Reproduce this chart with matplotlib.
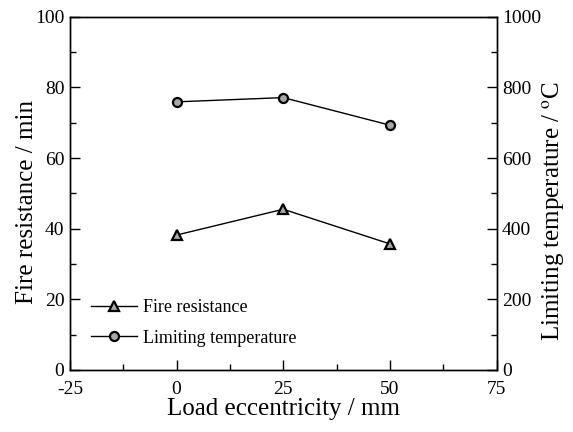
import matplotlib.pyplot as plt
from matplotlib.ticker import MultipleLocator

# data
eccentricity = [0, 25, 50]
fire_resistance = [38.2, 45.5, 35.7]       # min
limiting_temp = [759, 771, 693]            # degC

plt.rcParams['font.family'] = ['Liberation Serif']
plt.rcParams['mathtext.fontset'] = 'stix'
plt.rcParams['axes.unicode_minus'] = False

fig = plt.figure(figsize=(5.73, 4.32), dpi=100)
ax = fig.add_axes([70 / 573, 62 / 432, (496.5 - 70) / 573, (370 - 16.7) / 432])
ax2 = ax.twinx()

mk = dict(markerfacecolor='#a8a8a8', markeredgecolor='black', markeredgewidth=1.6,
          markersize=6.5, color='black', linewidth=1.0)

l1, = ax.plot(eccentricity, fire_resistance, marker='^', label='Fire resistance', **mk)
l2, = ax2.plot(eccentricity, limiting_temp, marker='o', label='Limiting temperature', **mk)

ax.set_xlim(-25, 75)
ax.set_ylim(0, 100)
ax2.set_ylim(0, 1000)

ax.xaxis.set_major_locator(MultipleLocator(25))
ax.xaxis.set_minor_locator(MultipleLocator(12.5))
ax.yaxis.set_major_locator(MultipleLocator(20))
ax.yaxis.set_minor_locator(MultipleLocator(10))
ax2.yaxis.set_major_locator(MultipleLocator(200))
ax2.yaxis.set_minor_locator(MultipleLocator(100))

for a in (ax, ax2):
    a.tick_params(which='major', direction='in', length=7, width=1.0, labelsize=14)
    a.tick_params(which='minor', direction='in', length=4, width=1.0)
    for s in a.spines.values():
        s.set_linewidth(1.0)
ax.tick_params(axis='x', pad=8)
ax.tick_params(axis='y', pad=4)
ax2.tick_params(axis='y', pad=4)

ax.set_xlabel('Load eccentricity / mm', fontsize=18, labelpad=0)
ax.set_ylabel('Fire resistance / min', fontsize=18)
ax2.set_ylabel(r'Limiting temperature / $^{\mathrm{o}}$C', fontsize=18)
ax.yaxis.set_label_coords(-0.076, 0.475)
ax2.yaxis.set_label_coords(1.104, 0.45)

ax.legend(handles=[l1, l2], loc='lower left', frameon=False, fontsize=13,
          bbox_to_anchor=(0.01, 0.02), handlelength=2.6, labelspacing=0.75,
          handletextpad=0.3)

fig.savefig('out.png', dpi=100)
